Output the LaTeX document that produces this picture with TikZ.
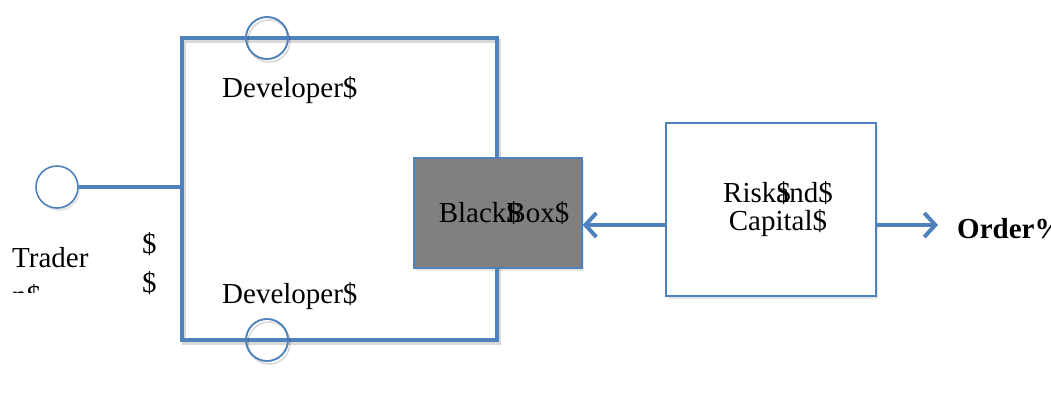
\documentclass[tikz,border=0pt]{standalone}
\usepackage{fontspec}
\setmainfont{Liberation Serif}
\usetikzlibrary{arrows.meta,shadows}

\definecolor{officeblue}{HTML}{4F81BD}
\definecolor{boxgray}{HTML}{808080}

\begin{document}
\begin{tikzpicture}[x=1pt,y=-1pt,
        port/.style={draw=officeblue,line width=1.6pt,circle,minimum size=42pt,inner sep=0pt},
        block/.style={draw=officeblue,line width=1.3pt,inner sep=0pt,align=center,font=\fontsize{29}{28}\selectfont},
        wire/.style={draw=officeblue,line width=4pt},
        arc/.style={draw=officeblue,line width=4pt,-{Straight Barb[length=11pt,width=24pt]}},
        shade/.style={draw=black,opacity=0.15,line width=#1,transform canvas={shift={(2pt,-3pt)}}},
        soft/.style={drop shadow={shadow xshift=2pt,shadow yshift=-3pt,opacity=0.2}},
        lbl/.style={font=\fontsize{29}{34}\selectfont,inner sep=0pt,anchor=base west}]

    \useasboundingbox (0,0) rectangle (1051,394);

    % frame corners
    \coordinate (tl) at (182,38);
    \coordinate (br) at (497,340);
    \coordinate (row) at (0,225);

    \draw[shade=4pt] (tl) rectangle (br);
    \draw[wire] (tl) rectangle (br);

    \node[port] (devtop) at (267,38) {};
    \node[port] (devbot) at (267,340) {};
    \draw[shade=1.6pt] (devtop.center) circle[radius=21pt];
    \draw[shade=1.6pt] (devbot.center) circle[radius=21pt];
    \node[port] at (devtop) {};
    \node[port] at (devbot) {};

    \node[port,fill=white,soft] (tradeport) at (57,187) {};
    \draw[wire] (tradeport) -- (tradeport -| tl);

    \node[block,fill=boxgray,soft,minimum width=168pt,minimum height=110pt] (bbox) at (498,213) {\hspace*{12pt}Black\rlap{\$}Box\$};
    \node[block,fill=white,soft,minimum width=210pt,minimum height=173pt] (risk) at (771,209.5) {\hspace*{14pt}Risk\rlap{\$}and\$\\\hspace*{14pt}Capital\$};

    \node[lbl,font=\fontsize{29}{34}\selectfont\bfseries] (order) at (957,238) {Order\%};

    \draw[arc] (risk.west |- row) -- (bbox.east |- row);
    \draw[arc,shorten >=19pt] (risk.east |- row) -- (order.west |- row);

    % labels
    \node[lbl] (devtoplbl) at (222,97) {Developer\$};
    \node[lbl] (devbotlbl) at (222,303) {Developer\$};
    \node[lbl] (trader) at (12,267) {Trader};
    \node[lbl] (dollara) at (142,253) {\$};
    \node[lbl] (dollarb) at (142,292) {\$};
    \begin{scope}
        \clip (0,284) rectangle (80,292);
        \node[lbl] (tradercut) at (12,305) {n\$};
    \end{scope}
\end{tikzpicture}
\end{document}
